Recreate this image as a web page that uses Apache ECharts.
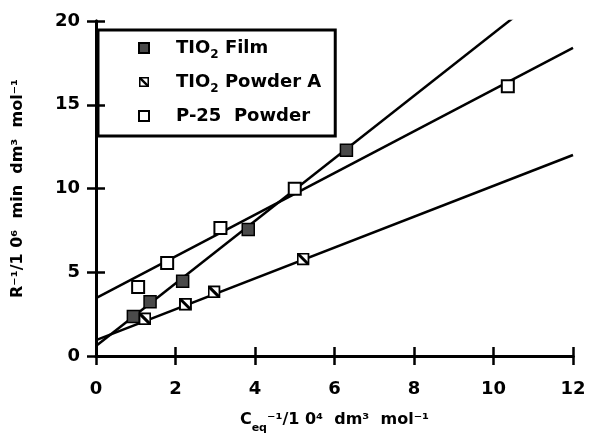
<!DOCTYPE html>
<html><head><meta charset="utf-8">
<script src="https://cdn.jsdelivr.net/npm/echarts@6/dist/echarts.min.js"></script>
<style>html,body{margin:0;padding:0;background:#fff}#c{width:592px;height:439px}</style>
</head><body><div id="c"></div>
<script>
// ---- data ----
const filmX = [0.94, 1.36, 2.18, 3.83, 6.30];
const filmY = [2.36, 3.24, 4.46, 7.55, 12.28];
const powderAX = [1.23, 2.25, 2.97, 5.21];
const powderAY = [2.22, 3.09, 3.83, 5.79];
const p25X = [1.06, 1.79, 3.13, 5.00, 10.36];
const p25Y = [4.12, 5.55, 7.64, 9.99, 16.10];
// fitted straight lines (endpoints at x = 0 and x = 12)
const fitX = [0, 12];
const filmFitY = [0.6, 23.0];
const powderAFitY = [0.95, 12.0];
const p25FitY = [3.45, 18.4];
const xTicks = [0, 2, 4, 6, 8, 10, 12];
const yTicks = [0, 5, 10, 15, 20];
const seriesNames = ['TIO2 Film', 'TIO2 Powder A', 'P-25 Powder'];

const zip = (xs, ys) => xs.map((x, i) => [x, ys[i]]);
const FONT = '"DejaVu Sans", "Liberation Sans", sans-serif';
const halfSvg = 'data:image/svg+xml;utf8,' + encodeURIComponent(
  '<svg xmlns="http://www.w3.org/2000/svg" width="26" height="26" viewBox="0 0 26 26">' +
  '<rect x="2" y="2" width="22" height="22" fill="#fff" stroke="#000" stroke-width="4"/>' +
  '<line x1="3" y1="3" x2="23" y2="23" stroke="#000" stroke-width="6"/></svg>');

const axisCommon = {
  type: 'value', min: 0,
  axisLine: { show: true, lineStyle: { color: '#000', width: 3 } },
  axisTick: { show: true, inside: true, length: 9, lineStyle: { color: '#000', width: 2.5 } },
  splitLine: { show: false }
};
const labelStyle = { color: '#000', fontFamily: FONT, fontWeight: 'bold', fontSize: 18 };

const chart = echarts.init(document.getElementById('c'), null, { renderer: 'canvas' });
chart.setOption({
  backgroundColor: '#fff',
  animation: false,
  grid: { left: 96, right: 19, top: 21, bottom: 77 },
  xAxis: [
    Object.assign({}, axisCommon, {
      max: xTicks[xTicks.length - 1], interval: xTicks[1] - xTicks[0], position: 'bottom',
      axisLabel: Object.assign({ margin: 24 }, labelStyle),
      name: '{b|C}{s|eq}{b|\u207B\u00B9/1 0\u2074  dm\u00B3  mol\u207B\u00B9}',
      nameLocation: 'middle', nameGap: 50,
      nameTextStyle: {
        rich: {
          b: { fontFamily: FONT, fontWeight: 'bold', fontSize: 16, color: '#000', lineHeight: 20 },
          s: { fontFamily: FONT, fontWeight: 'bold', fontSize: 11, color: '#000', lineHeight: 28, verticalAlign: 'bottom' }
        }
      }
    }),
    Object.assign({}, axisCommon, {
      max: xTicks[xTicks.length - 1], interval: xTicks[1] - xTicks[0], position: 'top',
      axisLabel: { show: false }
    })
  ],
  yAxis: [
    Object.assign({}, axisCommon, {
      max: yTicks[yTicks.length - 1], interval: yTicks[1] - yTicks[0], position: 'left',
      axisLabel: Object.assign({ margin: 16 }, labelStyle),
      name: 'R\u207B\u00B9/1 0\u2076  min  dm\u00B3  mol\u207B\u00B9',
      nameLocation: 'middle', nameGap: 70,
      nameTextStyle: { fontFamily: FONT, fontWeight: 'bold', fontSize: 16, color: '#000' }
    }),
    Object.assign({}, axisCommon, {
      max: yTicks[yTicks.length - 1], interval: yTicks[1] - yTicks[0], position: 'right',
      axisLabel: { show: false }
    })
  ],
  legend: {
    data: seriesNames,
    orient: 'vertical', left: 98, top: 30,
    padding: [9, 14, 11, 40],
    itemGap: 12, itemWidth: 10, itemHeight: 10,
    borderColor: '#000', borderWidth: 3,
    formatter: function (n) {
      if (n === seriesNames[0]) return '{sp|}{n|TIO}{s|2}{n| Film}';
      if (n === seriesNames[1]) return '{sp|}{n|TIO}{s|2}{n| Powder A}';
      return '{sp|}{n|P-25  Powder}';
    },
    textStyle: {
      rich: {
        sp: { width: 22 },
        n: { fontFamily: FONT, fontWeight: 'bold', fontSize: 18, color: '#000', lineHeight: 20 },
        s: { fontFamily: FONT, fontWeight: 'bold', fontSize: 12, color: '#000', lineHeight: 26, verticalAlign: 'bottom' }
      }
    }
  },
  series: [
    { name: 'film fit', type: 'line', data: zip(fitX, filmFitY), showSymbol: false, silent: true, clip: true,
      lineStyle: { color: '#000', width: 2.5 }, z: 1 },
    { name: 'powderA fit', type: 'line', data: zip(fitX, powderAFitY), showSymbol: false, silent: true, clip: true,
      lineStyle: { color: '#000', width: 2.5 }, z: 1 },
    { name: 'p25 fit', type: 'line', data: zip(fitX, p25FitY), showSymbol: false, silent: true, clip: true,
      lineStyle: { color: '#000', width: 2.5 }, z: 1 },
    { name: seriesNames[0], type: 'scatter', data: zip(filmX, filmY), symbol: 'rect', symbolSize: 12,
      itemStyle: { color: '#4a4a4a', borderColor: '#000', borderWidth: 1.5, opacity: 1 }, z: 3 },
    { name: seriesNames[1], type: 'scatter', data: zip(powderAX, powderAY), symbol: 'image://' + halfSvg, symbolSize: 13,
      itemStyle: { color: '#000', opacity: 1 }, z: 3 },
    { name: seriesNames[2], type: 'scatter', data: zip(p25X, p25Y), symbol: 'rect', symbolSize: 12,
      itemStyle: { color: '#fff', borderColor: '#000', borderWidth: 2, opacity: 1 }, z: 3 }
  ]
});
</script></body></html>
